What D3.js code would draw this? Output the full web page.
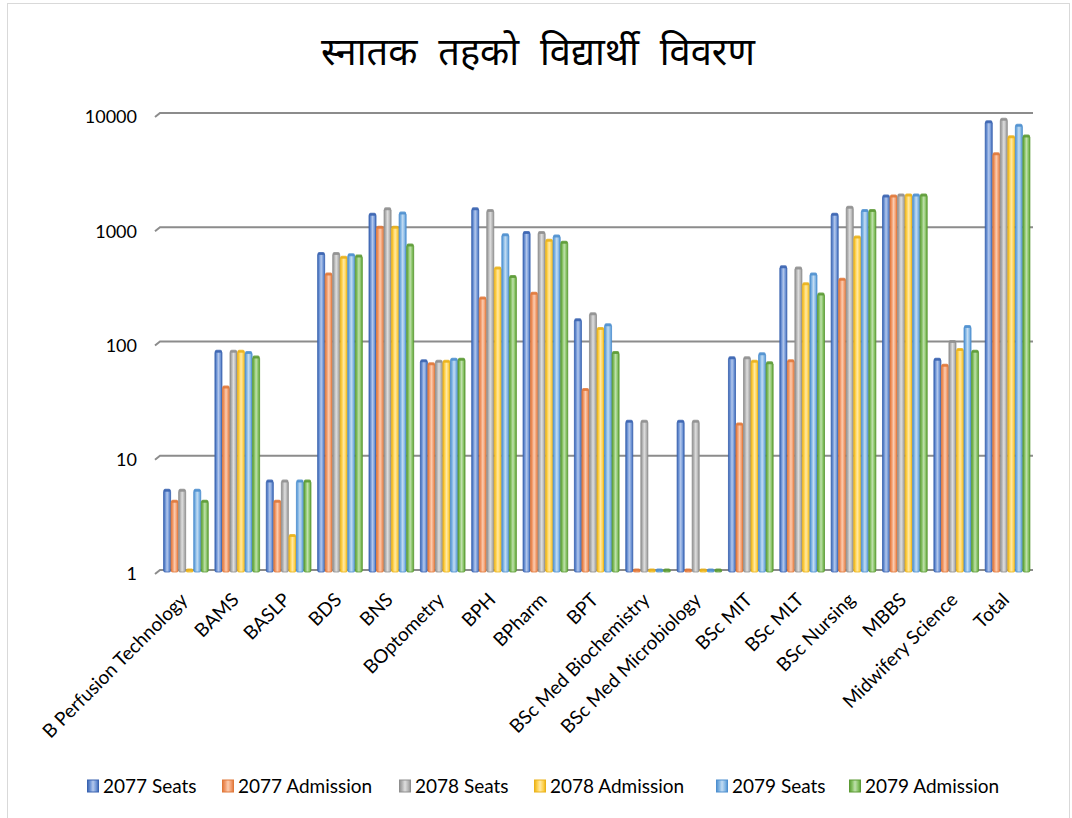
<!DOCTYPE html>
<html>
<head>
<meta charset="utf-8">
<script src="https://cdn.jsdelivr.net/npm/d3@7/dist/d3.min.js"></script>
<style>
  html, body { margin: 0; padding: 0; background: #fff; }
  svg { display: block; }
</style>
</head>
<body>
<svg id="chart" width="1072" height="818"></svg>
<script>
const title = "स्नातक तहको विद्यार्थी विवरण";
const categories = ["B Perfusion Technology","BAMS","BASLP","BDS","BNS","BOptometry","BPH","BPharm","BPT",
  "BSc Med Biochemistry","BSc Med Microbiology","BSc MIT","BSc MLT","BSc Nursing","MBBS","Midwifery Science","Total"];
const seriesNames = ["2077 Seats","2077 Admission","2078 Seats","2078 Admission","2079 Seats","2079 Admission"];
const seats2077 = [5, 82, 6, 590, 1300, 68, 1450, 900, 155, 20, 20, 72, 450, 1300, 1880, 70, 8400];
const adm2077   = [4, 40, 4, 390, 1000, 64, 240, 265, 38, 1, 1, 19, 68, 350, 1880, 62, 4400];
const seats2078 = [5, 82, 6, 590, 1450, 67, 1400, 900, 175, 20, 20, 72, 440, 1500, 1920, 100, 8800];
const adm2078   = [1, 82, 2, 545, 1000, 67, 440, 770, 130, 1, 1, 67, 320, 820, 1920, 85, 6200];
const seats2079 = [5, 80, 6, 575, 1330, 70, 860, 840, 140, 1, 1, 78, 390, 1400, 1920, 135, 7800];
const adm2079   = [4, 73, 6, 560, 700, 70, 370, 740, 80, 1, 1, 65, 260, 1400, 1920, 82, 6300];
const yTicks = [1, 10, 100, 1000, 10000];
const yTickLabels = ["1", "10", "100", "1000", "10000"];

const seriesValues = [seats2077, adm2077, seats2078, adm2078, seats2079, adm2079];
const colors = [
  {dark:"#3a63b0", mid:"#6f95d6", light:"#b4c8ec"},
  {dark:"#e0783a", mid:"#f29b6c", light:"#fbcdb0"},
  {dark:"#8f8f8f", mid:"#b5b5b5", light:"#dedede"},
  {dark:"#eab21a", mid:"#ffd24d", light:"#ffe9a6"},
  {dark:"#4e8fcf", mid:"#82b6e4", light:"#c3dcf3"},
  {dark:"#5c9a35", mid:"#85c262", light:"#c0e0ad"}
];

const svg = d3.select("#chart");
const margin = {left: 160, right: 1033, top: 113, bottom: 570};

// frame
svg.append("rect").attr("x", 7.5).attr("y", 3.5).attr("width", 1062).attr("height", 830)
  .attr("fill", "#fff").attr("stroke", "#d9d9d9").attr("stroke-width", 1);

// gradients
const defs = svg.append("defs");
colors.forEach((c, i) => {
  const g = defs.append("linearGradient").attr("id", "g" + i)
    .attr("x1", "0%").attr("x2", "100%").attr("y1", "0%").attr("y2", "0%");
  g.append("stop").attr("offset", "0%").attr("stop-color", c.dark);
  g.append("stop").attr("offset", "25%").attr("stop-color", c.mid);
  g.append("stop").attr("offset", "50%").attr("stop-color", c.light);
  g.append("stop").attr("offset", "80%").attr("stop-color", c.mid);
  g.append("stop").attr("offset", "100%").attr("stop-color", c.dark);
});

const x0 = d3.scaleBand().domain(categories).range([margin.left, margin.right])
  .paddingInner(0.12).paddingOuter(0.06);
const x1 = d3.scaleBand().domain(seriesNames).range([0, x0.bandwidth()]).padding(0);
const y = d3.scaleLog().domain([1, 10000]).range([margin.bottom, margin.top]);

// title
svg.append("text").attr("x", 538).attr("y", 65).attr("text-anchor", "middle")
  .attr("font-family", "'Noto Sans Devanagari','Lohit Devanagari','Noto Sans',sans-serif")
  .attr("font-size", 38).attr("word-spacing", 11).attr("fill", "#000").text(title);

// gridlines with 3D slanted left end
const grid = svg.append("g");
yTicks.forEach(t => {
  const yy = y(t);
  grid.append("path")
    .attr("d", `M${margin.left - 5},${yy + 4} L${margin.left},${yy} H${margin.right}`)
    .attr("fill", "none").attr("stroke", "#8c8c8c").attr("stroke-width", 2);
});

// y axis labels via d3 axis
const yAxis = d3.axisLeft(y).tickValues(yTicks).tickFormat((d, i) => yTickLabels[i]).tickSize(0).tickPadding(0);
const ya = svg.append("g").attr("transform", `translate(137,4)`).call(yAxis);
ya.select(".domain").remove();
ya.selectAll("text").attr("font-family", "Lato, 'Open Sans', sans-serif").attr("font-size", 18).attr("fill", "#000");

// bars
const groups = svg.append("g").selectAll("g").data(categories).join("g")
  .attr("transform", d => `translate(${x0(d)},0)`);
groups.each(function(cat, ci) {
  const g = d3.select(this);
  seriesNames.forEach((s, si) => {
    const v = seriesValues[si][ci];
    const bx = x1(s);
    const bw = x1.bandwidth();
    const top = y(v);
    const h = Math.max(margin.bottom + 2 - top, 2);
    g.append("rect").attr("x", bx + 0.5).attr("y", top).attr("width", bw - 0.5).attr("height", h)
      .attr("rx", 1.5)
      .attr("fill", `url(#g${si})`).attr("stroke", colors[si].dark).attr("stroke-width", 0.8);
    // top cap
    g.append("rect").attr("x", bx + 0.5).attr("y", top - 1.5).attr("width", bw - 0.5).attr("height", 3)
      .attr("rx", 1.5).attr("fill", colors[si].dark).attr("opacity", 0.85);
  });
});

// x axis labels
const xAxis = d3.axisBottom(x0).tickSize(0).tickPadding(0);
const xa = svg.append("g").attr("transform", `translate(0,${margin.bottom})`).call(xAxis);
xa.select(".domain").remove();
xa.selectAll("text")
  .attr("font-family", "Lato, 'Open Sans', sans-serif").attr("font-size", 19).attr("fill", "#000")
  .attr("text-anchor", "end").attr("dy", 0).attr("y", 0)
  .attr("transform", "translate(3,31) rotate(-45)");

// legend
const legendX = [87, 222, 399, 534, 716, 849];
const lg = svg.append("g");
seriesNames.forEach((s, i) => {
  const item = lg.append("g").attr("transform", `translate(${legendX[i]},786)`);
  item.append("rect").attr("x", 0.5).attr("y", -6).attr("width", 11).attr("height", 12)
    .attr("fill", `url(#g${i})`).attr("stroke", colors[i].dark).attr("stroke-width", 1);
  item.append("text").attr("x", 16).attr("y", 0).attr("dy", "0.35em")
    .attr("font-family", "Lato, 'Open Sans', sans-serif").attr("font-size", 19).attr("fill", "#000").text(s);
});
</script>
</body>
</html>
